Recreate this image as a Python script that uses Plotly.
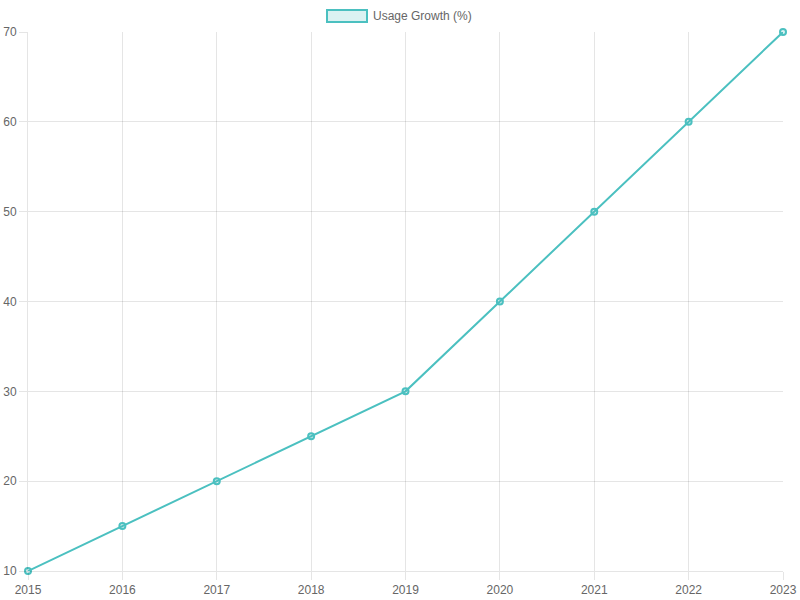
import plotly.graph_objects as go

years = [2015, 2016, 2017, 2018, 2019, 2020, 2021, 2022, 2023]
usage_growth = [10, 15, 20, 25, 30, 40, 50, 60, 70]
series_name = "Usage Growth (%)"

line_color = "rgb(75,192,192)"
fill_color = "rgba(75,192,192,0.2)"
grid_color = "rgba(0,0,0,0.1)"
font = dict(family="Liberation Sans, Helvetica, Arial, sans-serif", size=12, color="#666")

fig = go.Figure()
fig.add_trace(go.Scatter(
    x=years, y=usage_growth, mode="lines+markers", name=series_name,
    line=dict(color=line_color, width=2),
    marker=dict(size=6, color=fill_color, line=dict(color=line_color, width=2)),
    cliponaxis=False, showlegend=False,
))

fig.update_layout(
    width=800, height=600,
    margin=dict(l=28, r=17, t=32, b=29, autoexpand=False),
    paper_bgcolor="white", plot_bgcolor="white",
    font=font,
    xaxis=dict(range=[2015, 2023], tickmode="array", tickvals=years,
               ticktext=[str(y) for y in years], automargin=False,
               showgrid=True, gridcolor=grid_color, gridwidth=1,
               ticks="outside", ticklen=8, tickcolor=grid_color,
               showline=True, linecolor=grid_color, zeroline=False),
    yaxis=dict(range=[10, 70], dtick=10, automargin=False,
               showgrid=True, gridcolor=grid_color, gridwidth=1,
               ticks="outside", ticklen=8, tickcolor=grid_color,
               showline=True, linecolor=grid_color, zeroline=False),
    shapes=[dict(type="rect", xref="paper", yref="paper",
                 x0=(327 - 28) / 755, x1=(367 - 28) / 755,
                 y0=(571 - 22) / 539, y1=(571 - 10) / 539,
                 line=dict(color=line_color, width=2), fillcolor=fill_color)],
    annotations=[dict(text=series_name, xref="paper", yref="paper",
                      x=(371 - 28) / 755, y=(571 - 16) / 539,
                      xanchor="left", yanchor="middle", showarrow=False,
                      font=font)],
)

fig.write_html("out.html")
